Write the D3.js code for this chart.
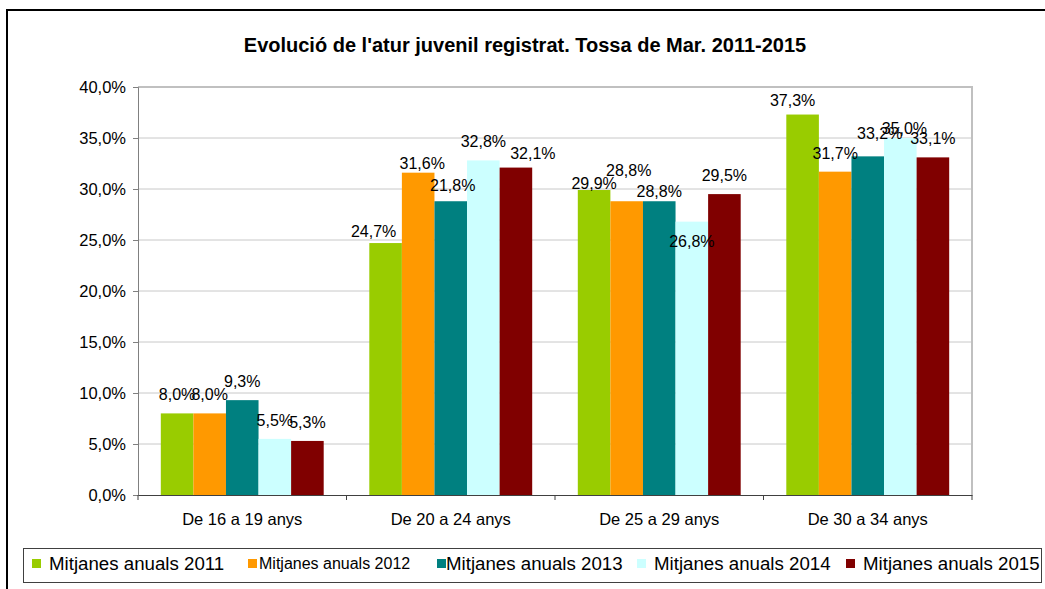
<!DOCTYPE html>
<html>
<head>
<meta charset="utf-8">
<script src="https://cdn.jsdelivr.net/npm/d3@7"></script>
<style>
  body { margin: 0; background: #fff; }
  svg { display: block; font-family: "Liberation Sans", Arial, sans-serif; }
</style>
</head>
<body>
<div id="chart"></div>
<script>
const categories = ["De 16 a 19 anys", "De 20 a 24 anys", "De 25 a 29 anys", "De 30 a 34 anys"];
const seriesNames = ["Mitjanes anuals 2011", "Mitjanes anuals 2012", "Mitjanes anuals 2013", "Mitjanes anuals 2014", "Mitjanes anuals 2015"];
// one array per series, values in % per category
const values2011 = [8.0, 24.7, 29.9, 37.3];
const values2012 = [8.0, 31.6, 28.8, 31.7];
const values2013 = [9.3, 28.8, 28.8, 33.2];
const values2014 = [5.5, 32.8, 26.8, 35.0];
const values2015 = [5.3, 32.1, 29.5, 33.1];
// label texts as printed in the source (the 2013 label for 20-24 reads 21,8%)
const labels2013 = ["9,3%", "21,8%", "28,8%", "33,2%"];
const yTicks = [0, 5, 10, 15, 20, 25, 30, 35, 40];

const seriesValues = [values2011, values2012, values2013, values2014, values2015];
const colors = ["#99cc00", "#ff9900", "#008080", "#ccffff", "#800000"];

// hand placement of some data labels, like in the original sheet [dx, dy]
const labelNudge = {
  "1-0": [-12, 7], "1-1": [4, 9], "1-2": [2, 3], "1-4": [17, 4],
  "2-0": [0, 12], "2-1": [2, -12], "2-2": [0, 9], "2-3": [0, 38],
  "3-0": [-10, 4], "3-2": [12, -4], "3-3": [4, 9]
};

const width = 1045, height = 589;
const margin = { top: 87, right: 73, bottom: 94, left: 138 };
const fmt = (v) => d3.format(".1f")(v).replace(".", ",") + "%";

const svg = d3.select("#chart").append("svg")
  .attr("width", width).attr("height", height);

// outer frame
svg.append("rect")
  .attr("x", 7).attr("y", 10)
  .attr("width", 1200).attr("height", 700)
  .attr("fill", "#fff").attr("stroke", "#000").attr("stroke-width", 2);

svg.append("text")
  .attr("x", 525).attr("y", 52)
  .attr("text-anchor", "middle")
  .attr("font-weight", "bold")
  .attr("font-size", 20)
  .text("Evolució de l'atur juvenil registrat. Tossa de Mar. 2011-2015");

const x0 = d3.scaleBand()
  .domain(categories)
  .range([margin.left, width - margin.right]);

const x1 = d3.scaleBand()
  .domain(d3.range(seriesNames.length))
  .range([0, x0.bandwidth()])
  .paddingInner(0)
  .paddingOuter(0.7);

const y = d3.scaleLinear()
  .domain([0, 40])
  .range([height - margin.bottom, margin.top]);

// grid
svg.append("g")
  .selectAll("line")
  .data(yTicks.slice(1))
  .join("line")
  .attr("x1", margin.left).attr("x2", width - margin.right)
  .attr("y1", (d) => y(d)).attr("y2", (d) => y(d))
  .attr("stroke", "#c8c8c8").attr("stroke-width", 1);

// plot border (top / right)
svg.append("path")
  .attr("d", `M${margin.left},${y(40)}H${width - margin.right}V${y(0)}`)
  .attr("fill", "none").attr("stroke", "#c0c0c0").attr("stroke-width", 2);

// bars
const groups = svg.append("g")
  .selectAll("g")
  .data(categories)
  .join("g")
  .attr("transform", (d) => `translate(${x0(d)},0)`);

groups.selectAll("rect")
  .data((c, gi) => seriesValues.map((vals, si) => ({ gi, si, v: vals[gi] })))
  .join("rect")
  .attr("x", (d) => x1(d.si))
  .attr("width", x1.bandwidth())
  .attr("y", (d) => y(d.v))
  .attr("height", (d) => y(0) - y(d.v))
  .attr("fill", (d) => colors[d.si]);

// data labels
groups.selectAll("text")
  .data((c, gi) => seriesValues.map((vals, si) => ({ gi, si, v: vals[gi] })))
  .join("text")
  .attr("x", (d) => x1(d.si) + x1.bandwidth() / 2 + (labelNudge[d.gi + "-" + d.si] || [0, 0])[0])
  .attr("y", (d) => y(d.v) - 13 + (labelNudge[d.gi + "-" + d.si] || [0, 0])[1])
  .attr("text-anchor", "middle")
  .attr("font-size", 16)
  .attr("fill", "#000")
  .text((d) => (d.si === 2 ? labels2013[d.gi] : fmt(d.v)));

// y axis
const yAxis = svg.append("g")
  .attr("transform", `translate(${margin.left},0)`)
  .call(d3.axisLeft(y).tickValues(yTicks).tickSize(5).tickPadding(7).tickFormat(fmt));
yAxis.select(".domain").attr("stroke", "#808080");
yAxis.selectAll(".tick line").attr("stroke", "#808080");
yAxis.selectAll(".tick text")
  .attr("font-size", 16.5).attr("fill", "#000")
  .attr("font-family", "Liberation Sans, Arial, sans-serif");

// x axis
const xAxis = svg.append("g")
  .attr("transform", `translate(0,${y(0)})`)
  .call(d3.axisBottom(x0).tickSize(0).tickPadding(18));
xAxis.select(".domain").attr("stroke", "#404040");
xAxis.selectAll(".tick text")
  .attr("font-size", 16.5).attr("fill", "#000")
  .attr("font-family", "Liberation Sans, Arial, sans-serif");
// separator ticks between categories
xAxis.append("g")
  .selectAll("line")
  .data(categories.concat([null]))
  .join("line")
  .attr("x1", (d) => (d ? x0(d) : width - margin.right))
  .attr("x2", (d) => (d ? x0(d) : width - margin.right))
  .attr("y1", 0).attr("y2", 5)
  .attr("stroke", "#404040");

// legend
const legend = svg.append("g");
legend.append("rect")
  .attr("x", 23.5).attr("y", 548.5)
  .attr("width", 1018).attr("height", 34)
  .attr("fill", "#fff").attr("stroke", "#404040").attr("stroke-width", 1);

const legendX = [32, 248, 437, 637, 846];
const legendFont = [18.7, 16, 18.7, 18.7, 18.7];
const items = legend.selectAll("g.item")
  .data(seriesNames)
  .join("g")
  .attr("class", "item")
  .attr("transform", (d, i) => `translate(${legendX[i]},0)`);
items.append("rect")
  .attr("x", 0).attr("y", 559)
  .attr("width", 9).attr("height", 9)
  .attr("fill", (d, i) => colors[i]);
items.append("text")
  .attr("x", (d, i) => (i === 1 ? 11 : i === 2 ? 9 : 17))
  .attr("y", (d, i) => (i === 1 ? 569 : 570))
  .attr("font-size", (d, i) => legendFont[i])
  .attr("fill", "#000")
  .text((d) => d);
</script>
</body>
</html>
